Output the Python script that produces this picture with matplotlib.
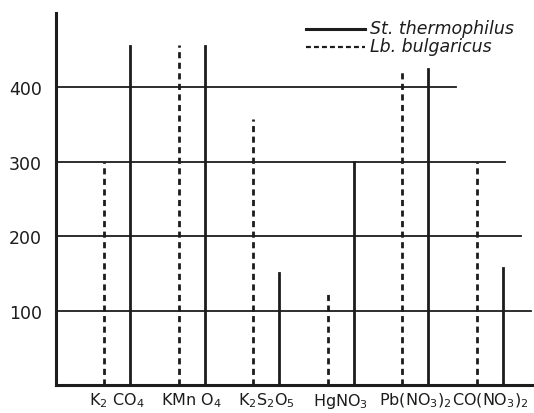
import matplotlib.pyplot as plt

# data
salts = ['K$_2$ CO$_4$', 'KMn O$_4$', 'K$_2$S$_2$O$_5$', 'HgNO$_3$',
         'Pb(NO$_3$)$_2$', 'CO(NO$_3$)$_2$']
thermophilus = [455, 455, 150, 300, 425, 157]
bulgaricus = [300, 457, 357, 125, 424, 300]
yticks = [100, 200, 300, 400]
# hand drawn grid lines stop at different places on the right
grid_ends = [5.55, 5.42, 5.2, 4.55]

ink = '#1c1c1c'
off = 0.175

fig = plt.figure(figsize=(5.34, 4.14), dpi=100)
ax = fig.add_axes([56/534, 28/414, 478/534, 372/414])

for y, xe in zip(yticks, grid_ends):
    ax.plot([-0.82, xe], [y, y], color=ink, lw=1.3, zorder=1)

for i in range(len(salts)):
    ax.plot([i - off, i - off], [0, bulgaricus[i]], color=ink, lw=2.0,
            linestyle=(0, (2.2, 1.6)), zorder=2)
    ax.plot([i + off, i + off], [0, thermophilus[i]], color=ink, lw=2.0, zorder=2)

ax.set_xlim(-0.82, 5.59)
ax.set_ylim(0, 500)
ax.set_yticks(yticks)
ax.set_yticklabels([str(v) for v in yticks], fontsize=12.5, color=ink)
ax.set_xticks(range(len(salts)))
ax.set_xticklabels(salts, fontsize=11.5, color=ink)
ax.tick_params(axis='y', length=0, pad=10)
ax.tick_params(axis='x', length=0, pad=4)

for s in ['top', 'right']:
    ax.spines[s].set_visible(False)
for s in ['left', 'bottom']:
    ax.spines[s].set_linewidth(2.2)
    ax.spines[s].set_color(ink)

# legend drawn by hand like the original
fig.lines.append(plt.Line2D([306/534, 365/534], [1 - 30/414, 1 - 30/414],
                            transform=fig.transFigure, color=ink, lw=2.2))
fig.lines.append(plt.Line2D([306/534, 365/534], [1 - 48/414, 1 - 48/414],
                            transform=fig.transFigure, color=ink, lw=1.6,
                            linestyle=(0, (2.2, 1.4))))
fig.text(370/534, 1 - 29/414, 'St. thermophilus', style='italic', fontsize=12.5,
         va='center', ha='left', color=ink)
fig.text(370/534, 1 - 47/414, 'Lb. bulgaricus', style='italic', fontsize=12.5,
         va='center', ha='left', color=ink)

plt.savefig('out.png', dpi=100)
